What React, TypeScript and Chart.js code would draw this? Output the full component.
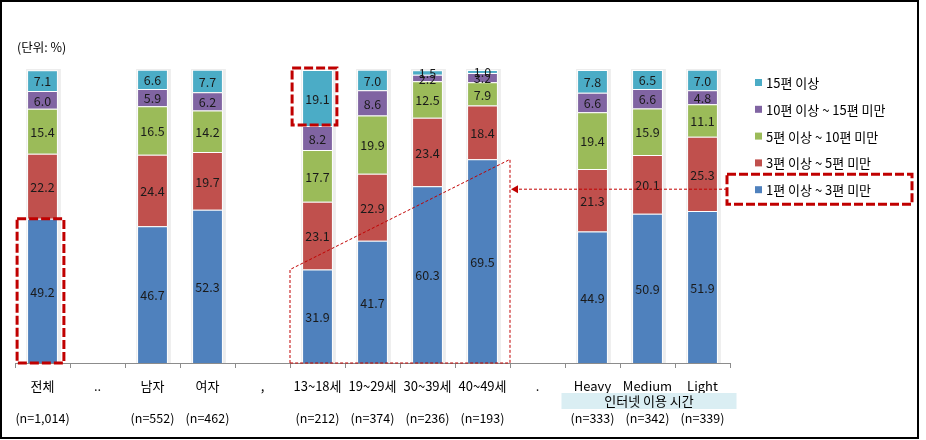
import React, { useEffect, useRef } from "react";
import { Chart, registerables } from "chart.js";

Chart.register(...registerables);

const categories = ["전체", "..", "남자", "여자", ",", "13~18세", "19~29세", "30~39세", "40~49세", ".", "Heavy", "Medium", "Light"];
const nLabels = ["(n=1,014)", "", "(n=552)", "(n=462)", "", "(n=212)", "(n=374)", "(n=236)", "(n=193)", "", "(n=333)", "(n=342)", "(n=339)"];
const seriesNames = ["1편 이상 ~ 3편 미만", "3편 이상 ~ 5편 미만", "5편 이상 ~ 10편 미만", "10편 이상 ~ 15편 미만", "15편 이상"];
const s1to3 = [49.2, null, 46.7, 52.3, null, 31.9, 41.7, 60.3, 69.5, null, 44.9, 50.9, 51.9];
const s3to5 = [22.2, null, 24.4, 19.7, null, 23.1, 22.9, 23.4, 18.4, null, 21.3, 20.1, 25.3];
const s5to10 = [15.4, null, 16.5, 14.2, null, 17.7, 19.9, 12.5, 7.9, null, 19.4, 15.9, 11.1];
const s10to15 = [6.0, null, 5.9, 6.2, null, 8.2, 8.6, 2.2, 3.2, null, 6.6, 6.6, 4.8];
const s15plus = [7.1, null, 6.6, 7.7, null, 19.1, 7.0, 1.5, 1.0, null, 7.8, 6.5, 7.0];
const groupLabel = "인터넷 이용 시간";
const unitLabel = "(단위: %)";
const colors = ["#4F81BD", "#C0504D", "#9BBB59", "#8064A2", "#4BACC6"];

const FONT = "'Noto Sans CJK KR', 'Noto Sans', sans-serif";
const RED = "#C00000";

export default function App() {
  const ref = useRef<HTMLCanvasElement | null>(null);
  useEffect(() => {
    document.body.style.margin = "0";
    const values = [s1to3, s3to5, s5to10, s10to15, s15plus];
    const overlay = {
      id: "overlay",
      beforeDatasetsDraw(chart: any) {
        const ctx = chart.ctx;
        const y = chart.scales.y;
        const meta0 = chart.getDatasetMeta(0);
        ctx.save();
        meta0.data.forEach((el: any, i: number) => {
          if (s1to3[i] == null) return;
          const top = y.getPixelForValue(100);
          ctx.fillStyle = "rgba(0,0,0,0.07)";
          ctx.fillRect(el.x - el.width / 2 - 1, top - 1, el.width + 4, y.bottom - top + 1);
        });
        ctx.restore();
      },
      afterDatasetsDraw(chart: any) {
        const ctx = chart.ctx;
        const xs = chart.scales.x;
        const ys = chart.scales.y;
        ctx.save();
        ctx.font = `12.5px ${FONT}`;
        ctx.fillStyle = "#1a1a1a";
        ctx.textAlign = "center";
        ctx.textBaseline = "middle";
        values.forEach((arr, d) => {
          const meta = chart.getDatasetMeta(d);
          meta.data.forEach((el: any, i: number) => {
            const v = arr[i];
            if (v == null) return;
            ctx.fillText(v.toFixed(1), el.x, (el.y + el.base) / 2 + 1);
          });
        });
        categories.forEach((c, i) => {
          const cx = xs.getPixelForValue(i);
          ctx.fillStyle = "#000";
          ctx.font = `13px ${FONT}`;
          ctx.fillText(c, cx, 386);
          if (nLabels[i]) {
            ctx.font = `12.5px ${FONT}`;
            ctx.fillText(nLabels[i], cx, 418);
          }
        });
        const gx0 = xs.getPixelForValue(10) - 31;
        const gx1 = xs.getPixelForValue(12) + 34;
        ctx.fillStyle = "#DAEEF3";
        ctx.fillRect(gx0, 393, gx1 - gx0, 16);
        ctx.fillStyle = "#000";
        ctx.font = `13px ${FONT}`;
        ctx.fillText(groupLabel, (gx0 + gx1) / 2, 401);
        ctx.textAlign = "left";
        ctx.font = `12.5px ${FONT}`;
        ctx.fillText(unitLabel, 17, 47);
        const lx = 755;
        const ly0 = 82;
        const step = 26.8;
        for (let k = 0; k < 5; k++) {
          const d = 4 - k;
          const yy = ly0 + k * step;
          ctx.fillStyle = colors[d];
          ctx.fillRect(lx, yy - 3, 7, 7);
          ctx.fillStyle = "#000";
          ctx.font = `13px ${FONT}`;
          ctx.fillText(seriesNames[d], lx + 11, yy + 1);
        }
        const meta0 = chart.getDatasetMeta(0);
        const meta4 = chart.getDatasetMeta(4);
        ctx.strokeStyle = RED;
        ctx.lineWidth = 3;
        ctx.setLineDash([9, 3]);
        const b0 = meta0.data[0];
        ctx.strokeRect(b0.x - b0.width / 2 - 10, b0.y, b0.width + 16, ys.bottom - b0.y);
        const b5 = meta4.data[5];
        ctx.strokeRect(b5.x - b5.width / 2 - 10, b5.y - 2, b5.width + 14, b5.base - b5.y + 1);
        ctx.strokeRect(727, ly0 + 4 * step - 15, 185, 30);
        ctx.lineWidth = 1;
        ctx.setLineDash([3, 2]);
        const a = meta0.data[5];
        const bb = meta0.data[8];
        const half = (xs.getPixelForValue(6) - xs.getPixelForValue(5)) / 2;
        const xl = xs.getPixelForValue(5) - half;
        const xr = xs.getPixelForValue(8) + half;
        ctx.beginPath();
        ctx.moveTo(xl, ys.bottom);
        ctx.lineTo(xl, a.y);
        ctx.lineTo(xr, bb.y);
        ctx.lineTo(xr, ys.bottom);
        ctx.closePath();
        ctx.stroke();
        const ay = ly0 + 4 * step;
        ctx.beginPath();
        ctx.moveTo(727, ay);
        ctx.lineTo(xr + 2, ay);
        ctx.stroke();
        ctx.setLineDash([]);
        ctx.fillStyle = RED;
        ctx.beginPath();
        ctx.moveTo(xr + 1, ay);
        ctx.lineTo(xr + 8, ay - 4);
        ctx.lineTo(xr + 8, ay + 4);
        ctx.closePath();
        ctx.fill();
        ctx.strokeStyle = "#000";
        ctx.lineWidth = 2;
        ctx.strokeRect(1, 1, 917, 437);
        ctx.restore();
      },
    };
    const chart = new Chart(ref.current as HTMLCanvasElement, {
      type: "bar",
      data: {
        labels: categories,
        datasets: values.map((arr, i) => ({
          label: seriesNames[i],
          data: arr as any,
          backgroundColor: colors[i],
          borderColor: "#ffffff",
          borderWidth: 1,
          barPercentage: 0.56,
          categoryPercentage: 1,
        })),
      },
      options: {
        animation: false,
        responsive: false,
        maintainAspectRatio: false,
        layout: { padding: { left: 15, right: 196, top: 70, bottom: 0 } },
        plugins: { legend: { display: false }, tooltip: { enabled: false } },
        scales: {
          x: {
            stacked: true,
            grid: { display: true, drawOnChartArea: false, drawTicks: true, tickLength: 5, color: "#8c8c8c", offset: true },
            border: { display: true, color: "#8c8c8c" },
            ticks: { display: false },
            afterFit: (s: any) => { s.height = 77; },
          },
          y: { stacked: true, display: false, min: 0, max: 100 },
        },
      },
      plugins: [overlay],
    });
    return () => chart.destroy();
  }, []);
  return (
    <div style={{ width: 926, height: 440 }}>
      <canvas ref={ref} width={926} height={440} />
    </div>
  );
}
